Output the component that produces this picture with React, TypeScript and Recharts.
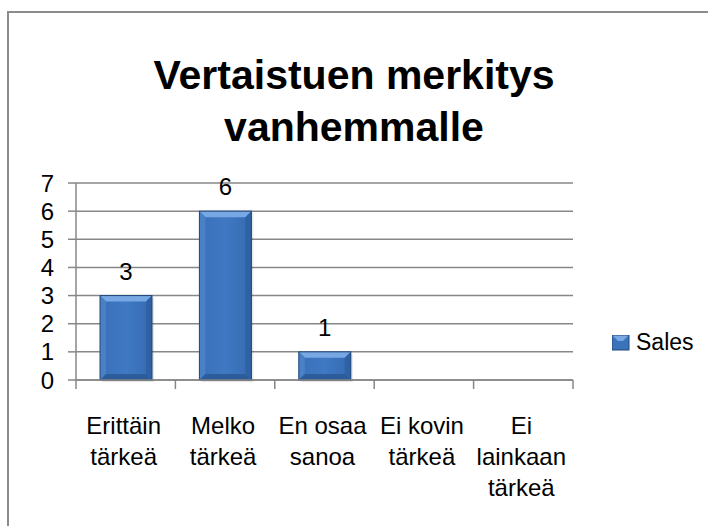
import React from 'react';
import { BarChart, Bar, XAxis, YAxis, CartesianGrid, Legend, LabelList } from 'recharts';

const categories = ['Erittäin tärkeä', 'Melko tärkeä', 'En osaa sanoa', 'Ei kovin tärkeä', 'Ei lainkaan tärkeä'];
const sales = [3, 6, 1, null, null];
const yTicks = [0, 1, 2, 3, 4, 5, 6, 7];
// line breaks as in the original chart
const tickLines: Record<string, string[]> = {
  'Erittäin tärkeä': ['Erittäin', 'tärkeä'],
  'Melko tärkeä': ['Melko', 'tärkeä'],
  'En osaa sanoa': ['En osaa', 'sanoa'],
  'Ei kovin tärkeä': ['Ei kovin', 'tärkeä'],
  'Ei lainkaan tärkeä': ['Ei', 'lainkaan', 'tärkeä'],
};

const chartData = categories.map((name, i) => ({ name, Sales: sales[i] }));

const FONT = '"Liberation Sans", Arial, sans-serif';
const GRID = '#878787';

const BevelBar = (props: any) => {
  const { x, y, width, height } = props;
  if (!height || height <= 0) return null;
  const b = Math.min(6, height / 3, width / 3);
  return (
    <g>
      <rect x={x + 2} y={y + 2} width={width} height={height} fill="#000" opacity={0.1} />
      <rect x={x} y={y} width={width} height={height} fill="url(#barFace)" />
      <polygon points={`${x},${y} ${x + width},${y} ${x + width - b},${y + b} ${x + b},${y + b}`} fill="#78a8e4" />
      <polygon points={`${x},${y} ${x + b},${y + b} ${x + b},${y + height - b} ${x},${y + height}`} fill="#4a80c6" />
      <polygon points={`${x + width},${y} ${x + width - b},${y + b} ${x + width - b},${y + height - b} ${x + width},${y + height}`} fill="#2f62a4" />
      <polygon points={`${x},${y + height} ${x + b},${y + height - b} ${x + width - b},${y + height - b} ${x + width},${y + height}`} fill="#2c5c99" />
      <rect x={x} y={y} width={width} height={height} fill="none" stroke="#23497a" strokeWidth={1} />
    </g>
  );
};

const CategoryTick = (props: any) => {
  const { x, y, payload, index } = props;
  const half = payload && payload.offset ? payload.offset : 49.7;
  const lines = tickLines[payload.value] || [payload.value];
  const last = index === categories.length - 1;
  return (
    <g>
      <line x1={x - half} y1={y - 8} x2={x - half} y2={y + 1} stroke={GRID} strokeWidth={1.5} />
      {last && <line x1={x + half} y1={y - 8} x2={x + half} y2={y + 1} stroke={GRID} strokeWidth={1.5} />}
      {lines.map((t: string, i: number) => (
        <text key={i} x={x - 2} y={y + 46 + i * 31} textAnchor="middle" fontFamily={FONT} fontSize={24} fill="#000">
          {t}
        </text>
      ))}
    </g>
  );
};

const LegendContent = () => (
  <div style={{ display: 'flex', alignItems: 'center', fontFamily: FONT, fontSize: 23, color: '#000' }}>
    <svg width={18} height={16} style={{ marginRight: 6 }}>
      <rect x={0} y={0} width={17} height={15} fill="#3b73bb" />
      <polygon points="0,0 17,0 11,6 6,6" fill="#78a8e4" />
      <rect x={0} y={0} width={17} height={15} fill="none" stroke="#23497a" />
    </svg>
    <span>Sales</span>
  </div>
);

export default function App() {
  return (
    <div style={{ position: 'absolute', left: 0, top: 0, width: 708, height: 526, overflow: 'hidden', background: '#fff' }}>
      <div style={{ position: 'absolute', left: 7, top: 11, width: 760, height: 600, border: '2px solid #8c8c8c' }} />
      <div style={{ position: 'absolute', left: 0, top: 49, width: 708, textAlign: 'center', fontFamily: FONT, fontWeight: 'bold', fontSize: 41, lineHeight: '52px', color: '#000' }}>
        Vertaistuen merkitys
        <br />
        vanhemmalle
      </div>
      <div style={{ position: 'absolute', left: 0, top: 0 }}>
        <BarChart width={708} height={526} data={chartData} margin={{ top: 183, right: 135, bottom: 100, left: 0 }} barSize={52}>
          <defs>
            <linearGradient id="barFace" x1="0" y1="0" x2="1" y2="0">
              <stop offset="0%" stopColor="#3a70b8" />
              <stop offset="50%" stopColor="#3f79c3" />
              <stop offset="100%" stopColor="#356ab0" />
            </linearGradient>
          </defs>
          <CartesianGrid vertical={false} stroke={GRID} strokeWidth={1.5} />
          <XAxis dataKey="name" height={46} axisLine={{ stroke: GRID, strokeWidth: 1.5 }} tickLine={false} tick={<CategoryTick />} interval={0} />
          <YAxis
            width={76}
            domain={[0, 7]}
            ticks={yTicks}
            interval={0}
            axisLine={{ stroke: GRID, strokeWidth: 1.5 }}
            tickLine={{ stroke: GRID, strokeWidth: 1.5 }}
            tickSize={8}
            tickMargin={14}
            tick={{ fontFamily: FONT, fontSize: 24, fill: '#000' }}
          />
          <Legend
            layout="vertical"
            align="center"
            verticalAlign="middle"
            content={<LegendContent />}
            wrapperStyle={{ position: 'absolute', left: 612, top: 329, width: 90 }}
          />
          <Bar dataKey="Sales" shape={<BevelBar />} isAnimationActive={false}>
            <LabelList dataKey="Sales" position="top" offset={16} style={{ fontFamily: FONT, fontSize: 24, fill: '#000' }} />
          </Bar>
        </BarChart>
      </div>
    </div>
  );
}
